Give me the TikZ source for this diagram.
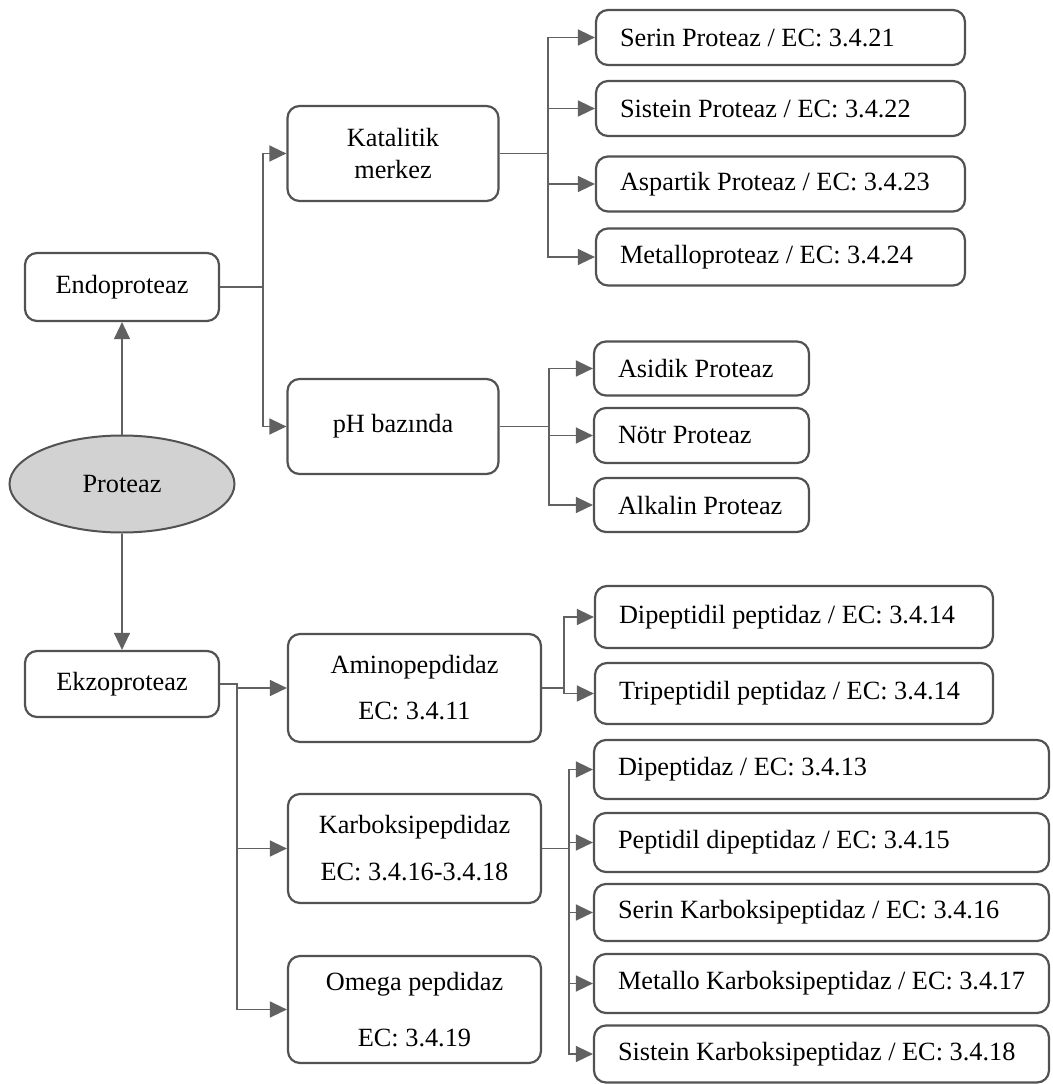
\documentclass[tikz,border=0pt]{standalone}
\usepackage{fontspec}
\setmainfont{Liberation Serif}
\usetikzlibrary{arrows.meta,shapes.geometric}

\begin{document}
\begin{tikzpicture}[x=1pt,y=-1pt,
  font=\fontsize{26.3}{32}\selectfont,
  box/.style={draw=black!68,line width=2.2pt,rounded corners=12pt,fill=white,inner sep=0pt},
  mbox/.style={box,minimum width=#1,align=flush center},
  leaf/.style={box,text width=#1,align=flush left,inner xsep=24pt},
  conn/.style={draw=black!62,line width=1.5pt,-{Triangle[length=17pt,width=16pt]}}]
 \useasboundingbox (0,0) rectangle (1052,1084);
 \node[ellipse,draw=black!68,line width=2pt,fill=gray!35,
       minimum width=225pt,minimum height=97pt] (prot) at (122,484) {Proteaz};
 \node[mbox=194pt,minimum height=68pt] (endo) at (122,287) {Endoproteaz};
 \node[mbox=194pt,minimum height=66pt] (ekzo) at (122,684) {Ekzoproteaz};
 \node[mbox=211pt,minimum height=95pt] (kat) at (393,153.5) {Katalitik\\merkez};
 \node[mbox=211pt,minimum height=95pt] (ph) at (393,426.5) {pH bazında};
 \node[mbox=253pt,minimum height=108pt] (amino) at (414.5,688)
      {Aminopepdidaz\\[14pt]EC: 3.4.11};
 \node[mbox=253pt,minimum height=109pt] (karb) at (414.5,848.5)
      {Karboksipepdidaz\\[15pt]EC: 3.4.16-3.4.18};
 \node[mbox=253pt,minimum height=107pt] (omega) at (414.5,1009.5)
      {Omega pepdidaz\\[24pt]EC: 3.4.19};
 \node[leaf=321pt,minimum height=55pt] (ser) at (780.5,37.5) {Serin Proteaz / EC: 3.4.21};
 \node[leaf=321pt,minimum height=55pt] (sis) at (780.5,108.5) {Sistein Proteaz / EC: 3.4.22};
 \node[leaf=321pt,minimum height=55pt] (asp) at (780.5,184) {Aspartik Proteaz / EC: 3.4.23};
 \node[leaf=321pt,minimum height=57pt] (met) at (780.5,257) {Metalloproteaz / EC: 3.4.24};
 \node[leaf=167pt,minimum height=54pt] (asi) at (701.5,368.5) {Asidik Proteaz};
 \node[leaf=167pt,minimum height=55pt] (notr) at (701.5,435.5) {Nötr Proteaz};
 \node[leaf=167pt,minimum height=54pt] (alk) at (701.5,505) {Alkalin Proteaz};
 \node[leaf=350pt,minimum height=62pt] (dpp) at (794,617) {Dipeptidil peptidaz / EC: 3.4.14};
 \node[leaf=350pt,minimum height=61pt] (tpp) at (794,693.5) {Tripeptidil peptidaz / EC: 3.4.14};
 \node[leaf=407pt,minimum height=59pt] (dip) at (821.5,769.5) {Dipeptidaz / EC: 3.4.13};
 \node[leaf=407pt,minimum height=59pt] (pdp) at (821.5,842.5) {Peptidil dipeptidaz / EC: 3.4.15};
 \node[leaf=407pt,minimum height=57pt] (skp) at (821.5,912.5) {Serin Karboksipeptidaz / EC: 3.4.16};
 \node[leaf=407pt,minimum height=59pt] (mkp) at (821.5,983.5) {Metallo Karboksipeptidaz / EC: 3.4.17};
 \node[leaf=407pt,minimum height=57pt] (sikp) at (821.5,1054) {Sistein Karboksipeptidaz / EC: 3.4.18};

 \draw[conn] (prot.north) -- (endo.south);
 \draw[conn] (prot.south) -- (ekzo.north);
 \foreach \n in {kat,ph} \draw[conn] (endo.east) -- ++(43,0) |- (\n.west);
 \foreach \n in {ser,sis,asp,met} \draw[conn] (kat.east) -- ++(48.5,0) |- (\n.west);
 \foreach \n in {asi,notr,alk} \draw[conn] (ph.east) -- ++(49.5,0) |- (\n.west);
 \foreach \n in {amino,karb,omega} \draw[conn] (ekzo.east) -- ++(17,0) |- (\n.west);
 \foreach \n in {dpp,tpp} \draw[conn] (amino.east) -- ++(22,0) |- (\n.west);
 \foreach \n in {dip,pdp,skp,mkp,sikp} \draw[conn] (karb.east) -- ++(27,0) |- (\n.west);
\end{tikzpicture}
\end{document}
